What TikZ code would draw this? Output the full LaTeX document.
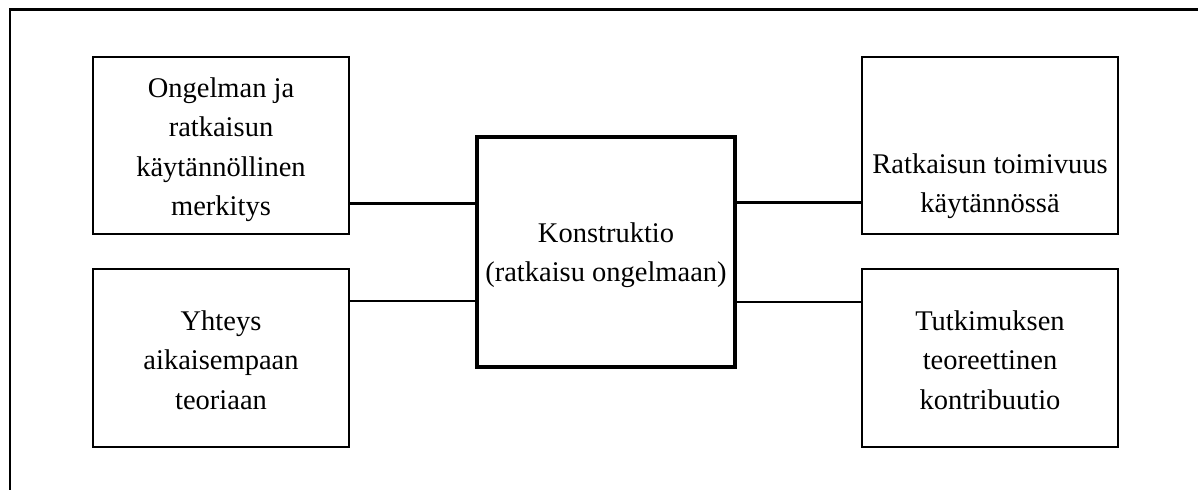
\documentclass[tikz,border=0pt]{standalone}
\usepackage{fontspec}
\setmainfont{Liberation Serif}
\begin{document}
\begin{tikzpicture}[x=1pt,y=-1pt,
  boxnode/.style={draw=black,line width=2.6pt,inner sep=0pt,minimum width=256pt,minimum height=177pt},
  bignode/.style={draw=black,line width=3.6pt,inner sep=0pt,minimum width=258pt,minimum height=230pt},
  txt/.style={anchor=north,inner sep=0pt,align=center,font=\fontsize{28.5}{39.5}\selectfont},
  link/.style={draw=black,line width=2.4pt},
  frame/.style={draw=black,line width=2.8pt}]
\useasboundingbox (0,0) rectangle (1198,490);
\fill[white] (0,0) rectangle (1198,490);
% outer frame (only top and left edges visible)
\coordinate (fa) at (1198,9.5);
\coordinate (fb) at (10,9.5);
\coordinate (fc) at (10,490);
\draw[frame] (fa) -- (fb) -- (fc);
% boxes
\node[boxnode] (tl) at (221,145.5) {};
\node[boxnode] (tr) at (990,145.5) {};
\node[boxnode,minimum height=178pt] (bl) at (221,358) {};
\node[boxnode,minimum height=178pt] (br) at (990,358) {};
\node[bignode] (c) at (606,252) {};
% texts
\node[txt] (ttl) at (221,75) {\rule{0pt}{22pt}Ongelman ja\\ratkaisun\\käytännöllinen\\merkitys};
\node[txt] (ttr) at (990,151) {\rule{0pt}{22pt}Ratkaisun toimivuus\\käytännössä};
\node[txt] (tc) at (606,220) {\rule{0pt}{22pt}Konstruktio\\(ratkaisu ongelmaan)};
\node[txt] (tbl) at (221,308) {\rule{0pt}{22pt}Yhteys\\aikaisempaan\\teoriaan};
\node[txt] (tbr) at (990,308) {\rule{0pt}{22pt}Tutkimuksen\\teoreettinen\\kontribuutio};
% connectors
\coordinate (p1) at ([yshift=32pt]tl.south east);
\coordinate (p2) at ([yshift=-33pt]bl.north east);
\coordinate (p3) at ([yshift=33pt]tr.south west);
\coordinate (p4) at ([yshift=-34pt]br.north west);
\draw[link] (p1) -- (p1 -| c.west);
\draw[link] (p2) -- (p2 -| c.west);
\draw[link] (p3 -| c.east) -- (p3);
\draw[link] (p4 -| c.east) -- (p4);
\end{tikzpicture}
\end{document}
